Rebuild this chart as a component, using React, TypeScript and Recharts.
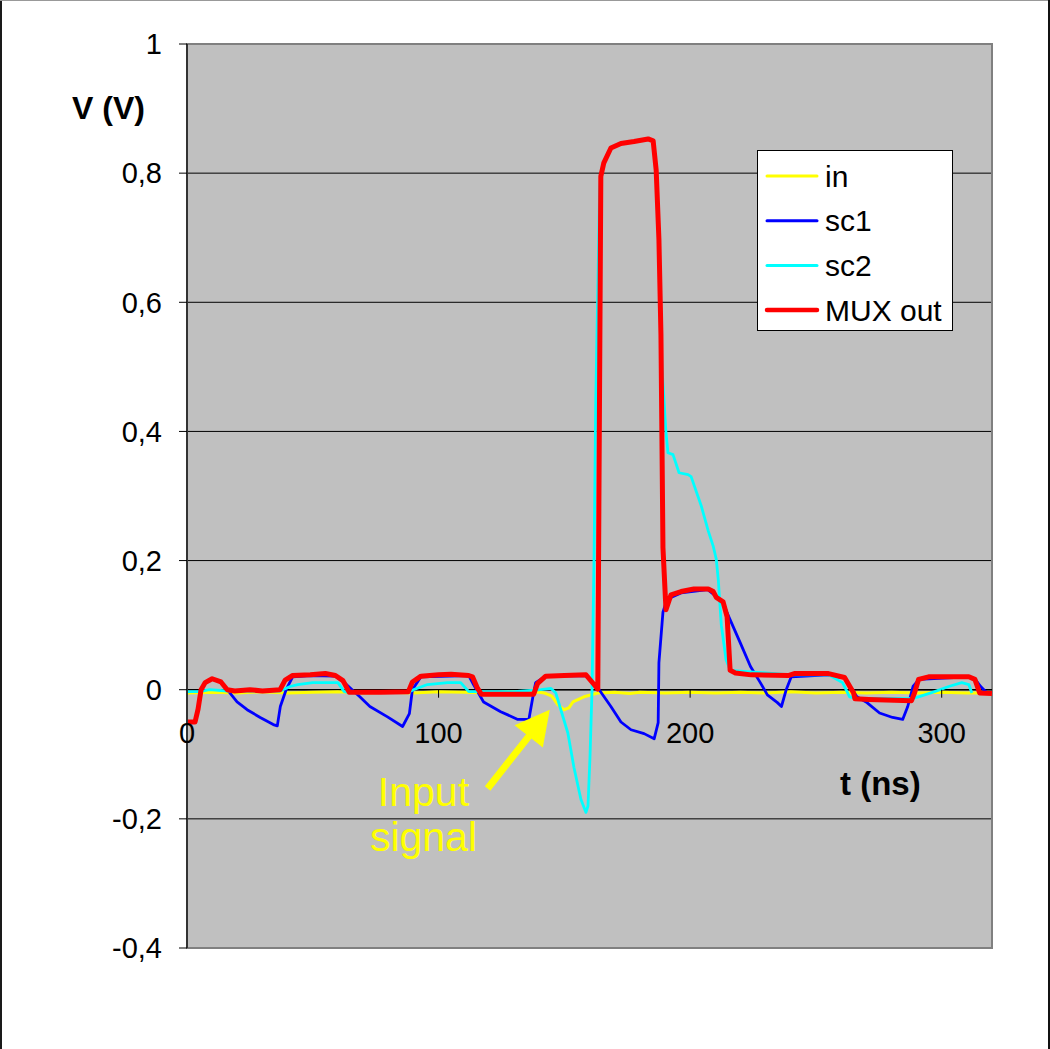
import React from "react";
import {
  LineChart,
  Line,
  XAxis,
  YAxis,
  CartesianGrid,
  ReferenceLine,
  ReferenceDot,
  ReferenceArea,
  Legend,
} from "recharts";

const FONT = "Arial, 'Liberation Sans', Helvetica, sans-serif";

// time (ns), voltage (V)
const inSignal: [number, number][] = [
  [0, -0.005], [10, -0.004], [20, -0.005], [30, -0.003], [40, -0.005], [50, -0.004],
  [60, -0.003], [70, -0.005], [80, -0.004], [90, -0.005], [100, -0.003], [110, -0.004],
  [120, -0.005], [130, -0.003], [140, -0.004], [142, -0.005], [145, -0.01], [147.4, -0.023],
  [149.8, -0.031], [151.8, -0.028], [153.4, -0.019], [157.8, -0.011], [163.3, -0.005],
  [170, -0.004], [176, -0.006], [180, -0.004], [190, -0.005], [200, -0.004], [210, -0.005],
  [220, -0.004], [230, -0.005], [240, -0.003], [250, -0.005], [260, -0.004], [270, -0.005],
  [280, -0.004], [290, -0.005], [300, -0.004], [310, -0.005], [320, -0.005],
];

const sc1: [number, number][] = [
  [0, -0.05], [3.2, -0.05], [4.4, -0.03], [5.6, 0.0], [7.2, 0.011], [10, 0.017],
  [13.5, 0.012], [16, 0.0], [19.9, -0.019], [23.9, -0.031], [29.1, -0.043], [34.3, -0.054],
  [35.9, -0.056], [37.1, -0.026], [39.4, 0.0], [42, 0.02], [49, 0.022], [59, 0.021],
  [62.5, 0.011], [68.7, -0.011], [72.7, -0.026], [79.7, -0.042], [85.7, -0.057],
  [88.4, -0.037], [89.6, 0.0], [93, 0.02], [112, 0.022], [113.9, 0.008], [117.9, -0.019],
  [124.7, -0.034], [131.5, -0.046], [135.9, -0.046], [137.5, -0.011], [138.6, 0.011],
  [142.6, 0.021], [158.6, 0.022], [163.3, 0.003], [168.5, -0.026], [172.5, -0.05],
  [176.5, -0.062], [181.7, -0.068], [185.7, -0.076], [187.3, -0.051], [187.6, 0.042],
  [189.2, 0.12], [190.8, 0.14], [196.4, 0.15], [207, 0.155], [213.1, 0.136],
  [214.7, 0.119], [219.9, 0.073], [224, 0.036], [227.9, 0.011], [230.7, -0.008],
  [234.7, -0.02], [236.3, -0.026], [238.2, 0.0], [240.2, 0.02], [255, 0.023],
  [261.4, 0.018], [266.3, -0.011], [270.3, -0.02], [275.3, -0.036], [280.5, -0.043],
  [284.5, -0.046], [286.5, -0.026], [288.6, 0.005], [291, 0.016], [310.8, 0.02],
  [313.2, 0.017], [315.5, 0.005], [318, -0.005],
];

const sc2: [number, number][] = [
  [0, -0.003], [5, -0.003], [9, 0.0], [16, -0.002], [25, -0.002], [37, -0.002],
  [41, 0.005], [44, 0.008], [50, 0.011], [60, 0.011], [62.5, -0.003], [65, -0.005],
  [88, -0.004], [90, 0.0], [95.6, 0.008], [103.6, 0.011], [108.8, 0.011], [112, -0.003],
  [120, -0.003], [130, -0.003], [140.7, 0.0], [144.7, 0.002], [146.6, -0.005],
  [148.6, -0.031], [151.4, -0.067], [153.8, -0.12], [156.6, -0.17], [158.6, -0.19],
  [159.4, -0.18], [160.2, -0.104], [161, 0.0], [161.8, 0.2], [162.5, 0.45], [163.3, 0.62],
  [164, 0.77], [164.5, 0.8], [165.7, 0.816], [168.5, 0.839], [172.5, 0.846],
  [177.7, 0.849], [183.3, 0.853], [185.3, 0.85], [186.5, 0.805], [187.6, 0.697],
  [188.8, 0.5], [190.4, 0.398], [191.2, 0.367], [193.2, 0.364], [195.6, 0.336],
  [199.2, 0.333], [200.4, 0.33], [204.4, 0.285], [207.2, 0.246], [209.2, 0.222],
  [210.4, 0.202], [211.2, 0.17], [212.4, 0.1], [214.3, 0.046], [216, 0.03],
  [240, 0.023], [255, 0.023], [260.6, 0.011], [263.4, -0.011], [265.7, -0.013],
  [288, -0.014], [290.8, -0.011], [297.2, -0.003], [302.8, 0.005], [308, 0.011],
  [310.8, 0.008], [312, -0.005],
];

const muxOut: [number, number][] = [
  [0, -0.05], [3.2, -0.05], [4.4, -0.03], [5.6, 0.0], [7.2, 0.011], [10, 0.017],
  [13.5, 0.012], [16, 0.0], [19, -0.002], [25, 0.0], [30, -0.002], [37, 0.0],
  [39, 0.015], [42, 0.022], [49, 0.023], [55, 0.025], [59, 0.022], [62, 0.014],
  [64.5, -0.004], [77, -0.004], [88, -0.003], [89.6, 0.012], [93, 0.021], [100, 0.023],
  [105, 0.024], [112, 0.022], [113.5, 0.02], [115.5, 0.002], [117, -0.007],
  [137.8, -0.007], [139.4, 0.01], [142.6, 0.021], [150, 0.022], [158.6, 0.023],
  [161.4, 0.01], [163.3, 0.001], [164.5, 0.795], [165.7, 0.816], [168.5, 0.839],
  [172.5, 0.846], [177.7, 0.849], [183.3, 0.853], [185.3, 0.85], [186.5, 0.805],
  [187.6, 0.697], [188.4, 0.55], [189.2, 0.22], [190.4, 0.124], [192.4, 0.147],
  [196.4, 0.152], [201.5, 0.156], [207.2, 0.156], [209.2, 0.152], [210.4, 0.143],
  [213.1, 0.136], [214.7, 0.113], [215.9, 0.03], [218, 0.026], [224.3, 0.023],
  [239, 0.022], [241.4, 0.025], [255, 0.025], [261.4, 0.019], [265, -0.005],
  [265.5, -0.014], [271, -0.015], [288, -0.017], [289.2, -0.005], [290.8, 0.016],
  [294.8, 0.02], [310.8, 0.02], [313.2, 0.016], [315.1, -0.005], [320, -0.006],
];

const xTicks = [0, 100, 200, 300];
const yTicks = [-0.4, -0.2, 0, 0.2, 0.4, 0.6, 0.8, 1];

const series = [
  { name: "in", points: inSignal, color: "#FFFF00", width: 3, legendWidth: 3 },
  { name: "sc1", points: sc1, color: "#0000FF", width: 2.8, legendWidth: 3 },
  { name: "sc2", points: sc2, color: "#00FFFF", width: 2.8, legendWidth: 3 },
  { name: "MUX out", points: muxOut, color: "#FF0000", width: 5, legendWidth: 4.5 },
];

const toRows = (pts: [number, number][]) => pts.map(([t, v]) => ({ t, v }));

const formatVolt = (v: number) => String(Math.round(v * 10) / 10).replace(".", ",");

// x tick labels sit on the zero line, not at the bottom of the plot
const XTickMark = (label: number) => (props: any) => {
  const { cx, cy } = props;
  return (
    <g>
      {label !== 0 && <line x1={cx} y1={cy} x2={cx} y2={cy + 8} stroke="#000" strokeWidth={1} />}
      <text
        x={cx}
        y={cy + 43}
        textAnchor="middle"
        dominantBaseline="central"
        fontFamily={FONT}
        fontSize={29}
        fill="#000"
      >
        {label}
      </text>
    </g>
  );
};

const NoteText = (props: any) => {
  const { cx, cy } = props;
  return (
    <g fontFamily={FONT} fontSize={41} fill="#FFFF00" textAnchor="middle">
      <text x={cx} y={cy}>Input</text>
      <text x={cx} y={cy + 45}>signal</text>
    </g>
  );
};

const Arrow = (props: any) => {
  const { x1, y1, x2, y2 } = props;
  const dx = x2 - x1;
  const dy = y2 - y1;
  const len = Math.sqrt(dx * dx + dy * dy);
  const ux = dx / len;
  const uy = dy / len;
  const headLen = 34;
  const halfW = 18;
  const bx = x2 - ux * headLen;
  const by = y2 - uy * headLen;
  const pts = [
    `${x2},${y2}`,
    `${bx - uy * halfW},${by + ux * halfW}`,
    `${bx + uy * halfW},${by - ux * halfW}`,
  ].join(" ");
  return (
    <g>
      <line x1={x1} y1={y1} x2={bx + ux * 2} y2={by + uy * 2} stroke="#FFFF00" strokeWidth={7} />
      <polygon points={pts} fill="#FFFF00" />
    </g>
  );
};

const LegendBox = () => (
  <svg width={196} height={181} style={{ display: "block" }}>
    <rect x={0.5} y={0.5} width={195} height={180} fill="#fff" stroke="#000" strokeWidth={1} />
    {series.map((s, i) => {
      const y = 26 + i * 44.7;
      return (
        <g key={s.name}>
          <line x1={10} y1={y} x2={60} y2={y} stroke={s.color} strokeWidth={s.legendWidth} strokeLinecap="round" />
          <text x={68} y={y} dominantBaseline="central" fontFamily={FONT} fontSize={30} fill="#000">
            {s.name}
          </text>
        </g>
      );
    })}
  </svg>
);

export default function App() {
  return (
    <div
      style={{
        position: "absolute",
        left: 0,
        top: 0,
        width: 1050,
        height: 1049,
        background: "#fff",
        overflow: "hidden",
      }}
    >
      <LineChart
        width={1050}
        height={1049}
        margin={{ top: 44, right: 58, bottom: 101, left: 0 }}
      >
        <CartesianGrid
          horizontal
          vertical={false}
          stroke="#000"
          strokeWidth={1}
          fill="#C0C0C0"
          fillOpacity={1}
        />
        <XAxis dataKey="t" type="number" domain={[0, 320]} allowDataOverflow hide />
        <YAxis
          type="number"
          domain={[-0.4, 1]}
          ticks={yTicks}
          width={187}
          tickFormatter={formatVolt}
          tick={{ fontFamily: FONT, fontSize: 29, fill: "#000" }}
          tickSize={8}
          tickMargin={17}
          tickLine={{ stroke: "#000" }}
          axisLine={{ stroke: "#333", strokeWidth: 2 }}
        />
        <ReferenceArea x1={0} x2={320} y1={-0.4} y2={1} fill="none" stroke="#808080" strokeWidth={2} />
        <ReferenceLine y={0} stroke="#000" strokeWidth={1.5} />
        {series.map((s) => (
          <Line
            key={s.name}
            data={toRows(s.points)}
            dataKey="v"
            name={s.name}
            type="linear"
            stroke={s.color}
            strokeWidth={s.width}
            strokeLinejoin="round"
            dot={false}
            activeDot={false}
            isAnimationActive={false}
          />
        ))}
        {xTicks.map((t) => (
          <ReferenceDot key={t} x={t} y={0} r={0} shape={XTickMark(t)} />
        ))}
        <ReferenceLine
          segment={[
            { x: 119.5, y: -0.153 },
            { x: 144.2, y: -0.031 },
          ]}
          shape={Arrow}
        />
        <ReferenceDot x={94} y={-0.18} r={0} shape={NoteText} />
        <Legend
          layout="vertical"
          align="center"
          verticalAlign="middle"
          content={LegendBox}
          wrapperStyle={{ left: 757, top: 150, width: 196, height: 181 }}
        />
      </LineChart>
      <div
        style={{
          position: "absolute",
          left: 72,
          top: 92,
          fontFamily: FONT,
          fontWeight: "bold",
          fontSize: 32,
          lineHeight: "32px",
          whiteSpace: "nowrap",
        }}
      >
        V (V)
      </div>
      <div
        style={{
          position: "absolute",
          left: 840,
          top: 767,
          fontFamily: FONT,
          fontWeight: "bold",
          fontSize: 33,
          lineHeight: "33px",
          whiteSpace: "nowrap",
        }}
      >
        t (ns)
      </div>
      <div style={{ position: "absolute", left: 0, top: 0, width: 2, height: 1049, background: "#1a1a1a" }} />
      <div style={{ position: "absolute", left: 0, top: 0, width: 1050, height: 1, background: "#999" }} />
      <div style={{ position: "absolute", right: 0, top: 0, width: 2, height: 1049, background: "#111" }} />
    </div>
  );
}
